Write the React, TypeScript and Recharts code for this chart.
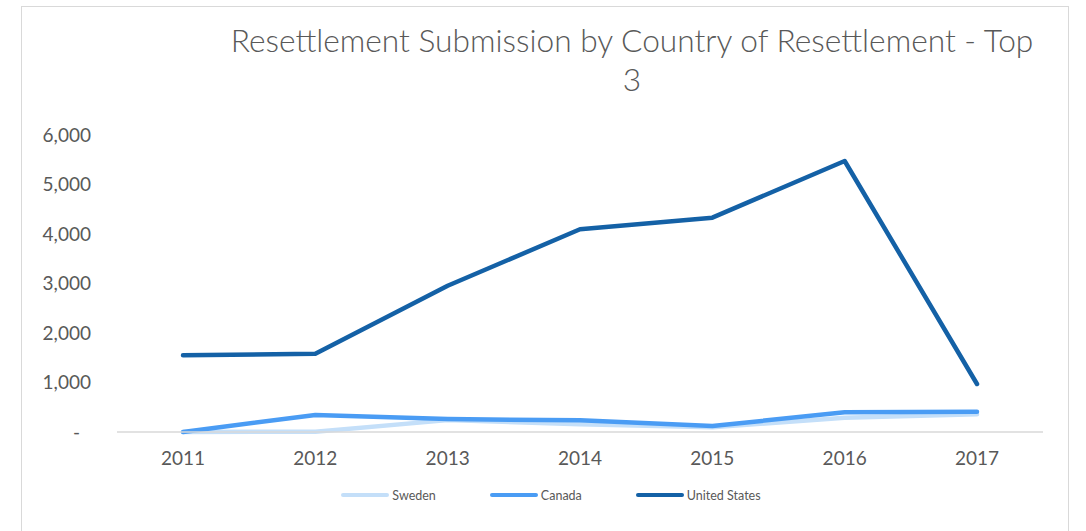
import React from "react";
import { LineChart, Line, XAxis, YAxis } from "recharts";

const years = ["2011", "2012", "2013", "2014", "2015", "2016", "2017"];
const sweden = [0, 5, 240, 155, 95, 290, 357];
const canada = [0, 345, 262, 235, 120, 400, 410];
const unitedStates = [1550, 1580, 2955, 4095, 4330, 5475, 970];
const yTicks = [0, 1000, 2000, 3000, 4000, 5000, 6000];

const seriesList = [
  { key: "Sweden", values: sweden, color: "#C4DFF9" },
  { key: "Canada", values: canada, color: "#4A9CF4" },
  { key: "United States", values: unitedStates, color: "#1461A6" },
];

const data = years.map((y, i) => {
  const row: Record<string, string | number> = { year: y };
  seriesList.forEach((s) => {
    row[s.key] = s.values[i];
  });
  return row;
});

const FONT = "Lato, 'Open Sans', sans-serif";
const TEXT = "#595959";

const YTick = (props: any) => {
  const { x, y, payload } = props;
  const v = payload.value as number;
  const label = v === 0 ? "-" : v.toLocaleString("en-US");
  return (
    <text
      x={v === 0 ? x - 11 : x}
      y={y}
      dy="0.36em"
      textAnchor="end"
      fill={TEXT}
      fontSize={19}
      fontFamily={FONT}
    >
      {label}
    </text>
  );
};

const LegendBlock = () => (
  <div
    style={{
      position: "absolute",
      left: 0,
      top: 487,
      width: 1102,
      height: 16,
      display: "flex",
      justifyContent: "center",
      alignItems: "center",
      fontFamily: FONT,
      fontSize: 12.5,
      color: TEXT,
      gap: 54,
    }}
  >
    {seriesList.map((s) => (
      <div key={s.key} style={{ display: "flex", alignItems: "center" }}>
        <div
          style={{
            width: 48,
            height: 4,
            borderRadius: 2,
            background: s.color,
            marginRight: 3,
          }}
        />
        <span>{s.key}</span>
      </div>
    ))}
  </div>
);

export default function App() {
  return (
    <div
      style={{
        position: "absolute",
        left: 0,
        top: 0,
        width: 1086,
        height: 531,
        overflow: "hidden",
        background: "#fff",
      }}
    >
      <div
        style={{
          position: "absolute",
          left: 21,
          top: 6,
          width: 1048,
          height: 560,
          border: "1.5px solid #d9d9d9",
          boxSizing: "border-box",
        }}
      />
      <div
        style={{
          position: "absolute",
          left: 132,
          width: 1000,
          top: 21,
          textAlign: "center",
          fontFamily: FONT,
          fontWeight: 300,
          fontSize: 31.7,
          lineHeight: "39px",
          color: TEXT,
        }}
      >
        <div>Resettlement Submission by Country of Resettlement - Top</div>
        <div>3</div>
      </div>
      <div style={{ position: "absolute", left: 0, top: 0 }}>
        <LineChart
          width={1086}
          height={531}
          data={data}
          margin={{ top: 135, right: 43, bottom: 69, left: 37 }}
        >
          <XAxis
            dataKey="year"
            height={30}
            padding={{ left: 66, right: 66 }}
            axisLine={{ stroke: "#d9d9d9", strokeWidth: 1.5 }}
            tickLine={false}
            tickSize={0}
            tickMargin={20}
            tick={{ fill: TEXT, fontSize: 19, fontFamily: FONT }}
            interval={0}
          />
          <YAxis
            width={80}
            domain={[0, 6000]}
            ticks={yTicks}
            axisLine={false}
            tickLine={false}
            tickSize={0}
            tickMargin={26}
            tick={<YTick />}
            interval={0}
          />
          {seriesList.map((s) => (
            <Line
              key={s.key}
              type="linear"
              dataKey={s.key}
              stroke={s.color}
              strokeWidth={4.5}
              strokeLinecap="round"
              strokeLinejoin="round"
              dot={false}
              activeDot={false}
              isAnimationActive={false}
            />
          ))}
        </LineChart>
      </div>
      <LegendBlock />
    </div>
  );
}
